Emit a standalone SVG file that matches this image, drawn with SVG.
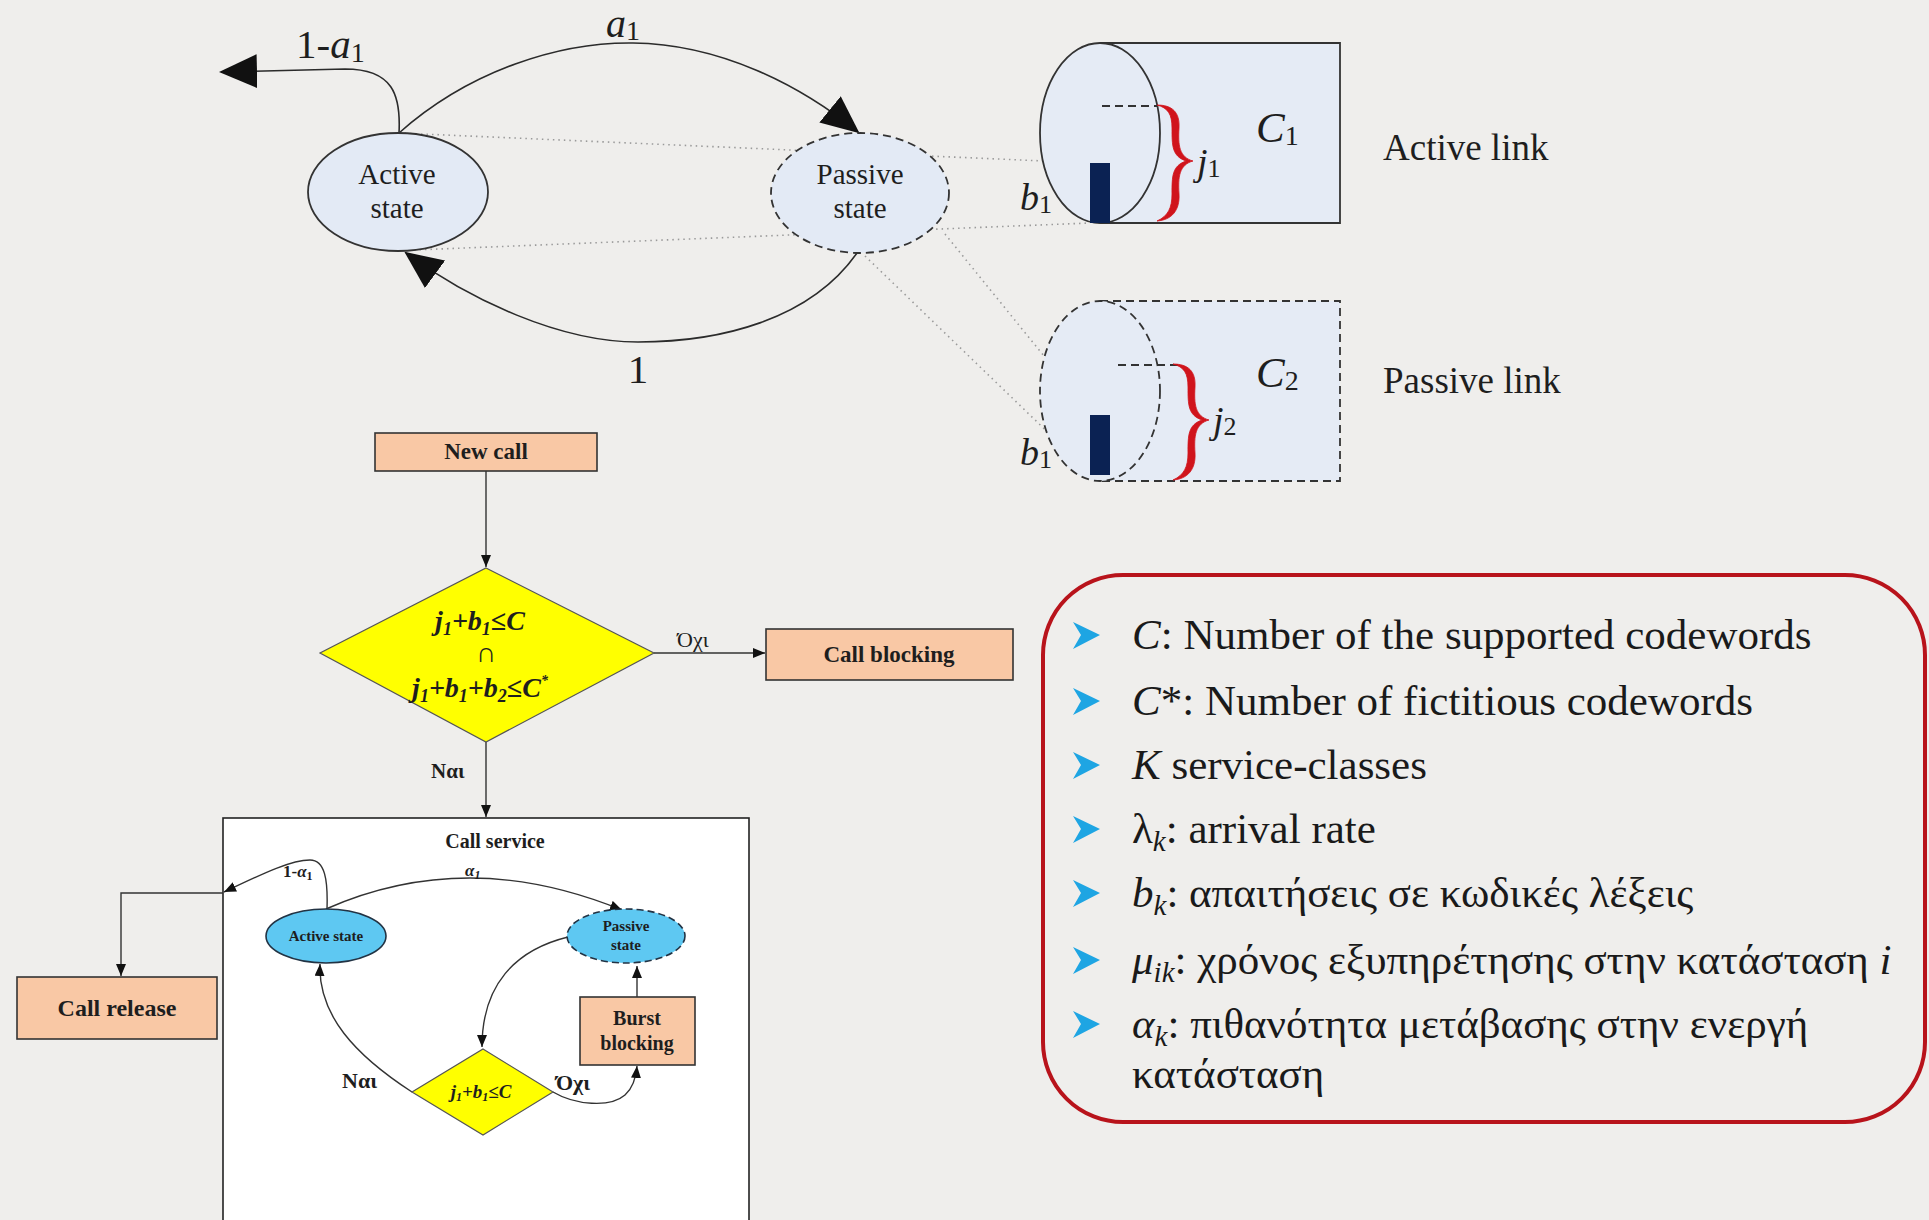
<svg xmlns="http://www.w3.org/2000/svg" width="1929" height="1220" viewBox="0 0 1929 1220">
  <defs>
    <style>
      .serif { font-family: "Liberation Serif", "Times New Roman", serif; fill: #1e1e1e; }
      .state { font-size: 29px; text-anchor: middle; }
      .math { font-style: italic; }
      .big { font-size: 41px; }
      .lbl { font-size: 38px; }
      .bold { font-weight: bold; }
      .ln { fill: none; stroke: #2b2b2b; stroke-width: 1.6; }
      .thin { fill: none; stroke: #333; stroke-width: 1.4; }
      .dot { fill: none; stroke: #9a9a9a; stroke-width: 1.6; stroke-dasharray: 1.5 4; }
      .stateTop { fill: #e3eaf5; stroke: #333; stroke-width: 1.8; }
      .cyl { fill: #e5ebf5; stroke: #333; stroke-width: 1.8; }
      .dash { stroke-dasharray: 8 5; }
      .peach { fill: #f9c8a5; stroke: #333; stroke-width: 1.6; }
      .yellow { fill: #ffff00; stroke: #555; stroke-width: 1.2; }
      .cyan { fill: #5ec8f2; stroke: #234; stroke-width: 1.6; }
      .bar { fill: #0b2253; }
      .brace { fill: #d0141c; stroke: #d0141c; stroke-width: 0.8; }
      .info { font-family: "Liberation Serif", "Times New Roman", serif; font-size: 43px; fill: #1a1a1a; }
      .bullet { fill: #1ea5e3; }
    </style>
    <marker id="bigArrow" viewBox="0 0 38 34" refX="36" refY="17" markerWidth="38" markerHeight="34" markerUnits="userSpaceOnUse" orient="auto">
      <path d="M0,0 L38,17 L0,34 Z" fill="#111"/>
    </marker>
    <marker id="arrow" viewBox="0 0 12 10" refX="12" refY="5" markerWidth="12" markerHeight="10" markerUnits="userSpaceOnUse" orient="auto">
      <path d="M0,0 L12,5 L0,10 Z" fill="#111"/>
    </marker>
    <!-- bullet chevron -->
    <path id="chev" d="M0,0 L27,13 L0,27 L8,13 Z"/>
    <!-- curly brace, top end at (0,0), tip at (36,56) -->
    <path id="brace" d="M0,0 C15,0 23,7 22,23 C21,40 22,52 36,56 C22,60 21,72 22,89 C23,105 15,115 0,116 C11,111 15,103 15,89 C15,71 15,61 29,56 C15,51 15,41 15,23 C15,9 11,3 0,0 Z"/>
  </defs>

  <rect width="1929" height="1220" fill="#efeeec"/>

  <!-- ===== Two-state model and link capacity ===== -->
  <g id="top-connectors">
    <!-- dotted projections towards the links -->
    <path class="dot" d="M399,133 L1090,163"/>
    <path class="dot" d="M414,250 L1090,223"/>
    <path class="dot" d="M945,234 L1091,414"/>
    <path class="dot" d="M865,256 L1088,471"/>
    <!-- transitions -->
    <path class="ln" d="M399,133 C470,70 560,42 633,43 C720,44 800,85 858,132" marker-end="url(#bigArrow)"/>
    <path class="ln" d="M399,133 C401,95 393,69 345,69 L221,72" marker-end="url(#bigArrow)"/>
    <path class="ln" d="M857,253 C810,320 720,342 638,342 C560,342 470,300 406,253" marker-end="url(#bigArrow)"/>
    <text class="serif" font-size="40" x="606" y="37"><tspan class="math">a</tspan><tspan font-size="28" dy="3">1</tspan></text>
    <text class="serif big" x="296" y="58">1-<tspan class="math">a</tspan><tspan font-size="28" dy="4">1</tspan></text>
    <text class="serif big" x="638" y="383" text-anchor="middle">1</text>
  </g>

  <g id="active-state">
    <ellipse class="stateTop" cx="398" cy="192" rx="90" ry="59"/>
    <text class="serif state" x="397" y="184">Active</text>
    <text class="serif state" x="397" y="218">state</text>
  </g>

  <g id="passive-state">
    <ellipse class="stateTop dash" cx="860" cy="193" rx="89" ry="60"/>
    <text class="serif state" x="860" y="184">Passive</text>
    <text class="serif state" x="860" y="218">state</text>
  </g>

  <g id="active-link">
    <rect x="1100" y="43" width="240" height="180" fill="#e5ebf5"/>
    <path class="cyl" fill="none" d="M1100,43 H1340 V223 H1100"/>
    <ellipse class="cyl" cx="1100" cy="133" rx="60" ry="90"/>
    <rect class="bar" x="1090" y="163" width="20" height="60"/>
    <path d="M1102,106 H1158" stroke="#333" stroke-width="1.8" stroke-dasharray="8 5"/>
    <use href="#brace" class="brace" x="1157" y="105"/>
    <text class="serif lbl" x="1197" y="175"><tspan class="math">j</tspan><tspan font-size="26" dy="2">1</tspan></text>
    <text class="serif" font-size="43" x="1256" y="142"><tspan class="math">C</tspan><tspan font-size="28" dy="3">1</tspan></text>
    <text class="serif lbl" x="1020" y="210"><tspan class="math">b</tspan><tspan font-size="26" dy="3">1</tspan></text>
    <text class="serif" font-size="37" x="1383" y="160">Active link</text>
  </g>

  <g id="passive-link">
    <rect x="1100" y="301" width="240" height="180" fill="#e5ebf5"/>
    <path class="cyl dash" fill="none" d="M1100,301 H1340 V481 H1100"/>
    <ellipse class="cyl dash" cx="1100" cy="391" rx="60" ry="90"/>
    <rect class="bar" x="1090" y="415" width="20" height="60"/>
    <path d="M1118,365 H1178" stroke="#333" stroke-width="1.8" stroke-dasharray="8 5"/>
    <use href="#brace" class="brace" x="1173" y="364"/>
    <text class="serif lbl" x="1213" y="433"><tspan class="math">j</tspan><tspan font-size="26" dy="2">2</tspan></text>
    <text class="serif" font-size="43" x="1256" y="387"><tspan class="math">C</tspan><tspan font-size="28" dy="3">2</tspan></text>
    <text class="serif lbl" x="1020" y="465"><tspan class="math">b</tspan><tspan font-size="26" dy="3">1</tspan></text>
    <text class="serif" font-size="37" x="1383" y="393">Passive link</text>
  </g>

  <!-- ===== Call admission flowchart ===== -->
  <g id="flow-connectors">
    <path class="thin" d="M486,471 V567" marker-end="url(#arrow)"/>
    <path class="thin" d="M654,653 H765" marker-end="url(#arrow)"/>
    <path class="thin" d="M486,742 V817" marker-end="url(#arrow)"/>
    <text class="serif" font-size="22" x="677" y="647">Όχι</text>
    <text class="serif bold" font-size="21" x="431" y="778">Ναι</text>
  </g>

  <g id="new-call">
    <rect class="peach" x="375" y="433" width="222" height="38"/>
    <text class="serif bold" font-size="23" x="486" y="459" text-anchor="middle">New call</text>
  </g>

  <g id="admission-check">
    <polygon class="yellow" points="486,568 654,653 486,742 320,653"/>
    <text class="serif bold math" font-size="28" x="480" y="630" text-anchor="middle">j<tspan font-size="18" dy="5">1</tspan><tspan dy="-5">+b</tspan><tspan font-size="18" dy="5">1</tspan><tspan dy="-5">≤C</tspan></text>
    <text class="serif" font-size="28" x="486" y="662" text-anchor="middle">∩</text>
    <text class="serif bold math" font-size="28" x="480" y="697" text-anchor="middle">j<tspan font-size="18" dy="5">1</tspan><tspan dy="-5">+b</tspan><tspan font-size="18" dy="5">1</tspan><tspan dy="-5">+b</tspan><tspan font-size="18" dy="5">2</tspan><tspan dy="-5">≤C</tspan><tspan font-size="14" dy="-12">*</tspan></text>
  </g>

  <g id="call-blocking">
    <rect class="peach" x="766" y="629" width="247" height="51"/>
    <text class="serif bold" font-size="23" x="889" y="662" text-anchor="middle">Call blocking</text>
  </g>

  <g id="call-release">
    <rect class="peach" x="17" y="977" width="200" height="62"/>
    <text class="serif bold" font-size="24" x="117" y="1016" text-anchor="middle">Call release</text>
  </g>

  <g id="call-service">
    <rect x="223" y="818" width="526" height="420" fill="#ffffff" stroke="#222" stroke-width="1.6"/>
    <text class="serif bold" font-size="20" x="495" y="848" text-anchor="middle">Call service</text>
  </g>

  <g id="service-connectors">
    <path class="thin" d="M326,909 C380,885 430,878 470,878 C530,878 580,893 622,910" marker-end="url(#arrow)"/>
    <path class="thin" d="M327,909 C328,880 325,860 310,860 C290,860 260,875 224,892" marker-end="url(#arrow)"/>
    <path class="thin" d="M223,893 H121 V976" marker-end="url(#arrow)"/>
    <path class="thin" d="M568,937 C515,950 482,985 482,1047" marker-end="url(#arrow)"/>
    <path class="thin" d="M412,1092 C355,1055 318,1015 320,964" marker-end="url(#arrow)"/>
    <path class="thin" d="M553,1092 C575,1105 610,1108 625,1095 C633,1088 636,1078 637,1066" marker-end="url(#arrow)"/>
    <path class="thin" d="M637,997 V966" marker-end="url(#arrow)"/>
    <text class="serif bold" font-size="17" x="283" y="877">1-<tspan class="math">α</tspan><tspan font-size="12" dy="3">1</tspan></text>
    <text class="serif bold math" font-size="17" x="465" y="876">α<tspan font-size="12" dy="3">1</tspan></text>
    <text class="serif bold" font-size="22" x="342" y="1088">Ναι</text>
    <text class="serif bold" font-size="22" x="556" y="1090">Όχι</text>
  </g>

  <g id="inner-active">
    <ellipse class="cyan" cx="326" cy="936" rx="60" ry="27"/>
    <text class="serif bold" font-size="15" fill="#1a2a3a" x="326" y="941" text-anchor="middle">Active state</text>
  </g>

  <g id="inner-passive">
    <ellipse class="cyan" cx="626" cy="936" rx="59" ry="27" stroke-dasharray="7 4" stroke-width="2"/>
    <text class="serif bold" font-size="15" x="626" y="931" text-anchor="middle">Passive</text>
    <text class="serif bold" font-size="15" x="626" y="950" text-anchor="middle">state</text>
  </g>

  <g id="inner-check">
    <polygon class="yellow" points="483,1049 553,1092 483,1135 412,1092"/>
    <text class="serif bold math" font-size="19" x="481" y="1098" text-anchor="middle">j<tspan font-size="12" dy="3">1</tspan><tspan dy="-3">+b</tspan><tspan font-size="12" dy="3">1</tspan><tspan dy="-3">≤C</tspan></text>
  </g>

  <g id="burst-blocking">
    <rect class="peach" x="580" y="997" width="115" height="68"/>
    <text class="serif bold" font-size="20" x="637" y="1025" text-anchor="middle">Burst</text>
    <text class="serif bold" font-size="20" x="637" y="1050" text-anchor="middle">blocking</text>
  </g>

  <!-- ===== Parameter legend ===== -->
  <g id="legend">
    <rect x="1043" y="575" width="882" height="547" rx="80" ry="80" fill="none" stroke="#b8131b" stroke-width="4"/>
    <use href="#chev" class="bullet" x="1073" y="622"/>
    <use href="#chev" class="bullet" x="1073" y="688"/>
    <use href="#chev" class="bullet" x="1073" y="752"/>
    <use href="#chev" class="bullet" x="1073" y="816"/>
    <use href="#chev" class="bullet" x="1073" y="880"/>
    <use href="#chev" class="bullet" x="1073" y="947"/>
    <use href="#chev" class="bullet" x="1073" y="1011"/>
    <text class="info" x="1132" y="649"><tspan font-style="italic">C</tspan>: Number of the supported codewords</text>
    <text class="info" x="1132" y="715"><tspan font-style="italic">C</tspan>*: Number of fictitious codewords</text>
    <text class="info" x="1132" y="779"><tspan font-style="italic">K</tspan> service-classes</text>
    <text class="info" x="1132" y="843">λ<tspan font-style="italic" font-size="29" dy="8">k</tspan><tspan dy="-8">: arrival rate</tspan></text>
    <text class="info" x="1132" y="907"><tspan font-style="italic">b</tspan><tspan font-style="italic" font-size="29" dy="8">k</tspan><tspan dy="-8">: απαιτήσεις σε κωδικές λέξεις</tspan></text>
    <text class="info" x="1132" y="974"><tspan font-style="italic">μ</tspan><tspan font-style="italic" font-size="29" dy="8">ik</tspan><tspan dy="-8">: χρόνος εξυπηρέτησης στην κατάσταση </tspan><tspan font-style="italic">i</tspan></text>
    <text class="info" x="1132" y="1038"><tspan font-style="italic">α</tspan><tspan font-style="italic" font-size="29" dy="8">k</tspan><tspan dy="-8">: πιθανότητα μετάβασης στην ενεργή</tspan></text>
    <text class="info" x="1132" y="1088">κατάσταση</text>
  </g>
</svg>
